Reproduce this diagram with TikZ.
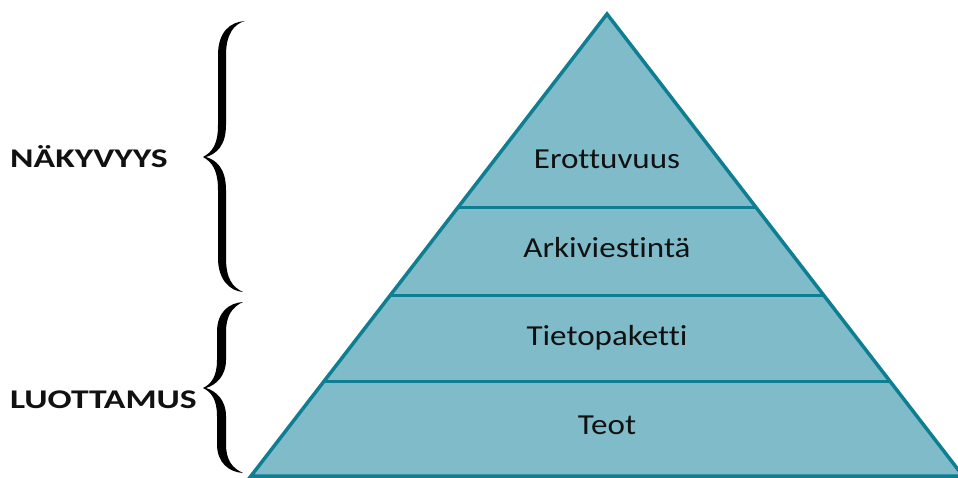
\documentclass[tikz,border=0pt]{standalone}
\usepackage{fontspec}
\setmainfont[FakeStretch=1.14,Ligatures=CommonOff]{Carlito}
\newfontfamily\sidefont[FakeStretch=1.32,Ligatures=CommonOff]{Carlito Bold}
\usetikzlibrary{calc}
\definecolor{pyrfill}{HTML}{80BBC9}
\definecolor{pyrline}{HTML}{0E7F92}
\definecolor{txt}{HTML}{111111}
\tikzset{
  layerlabel/.style={anchor=base, text=txt, font=\fontsize{29}{34}\selectfont, inner sep=0pt},
  sidelabel/.style={anchor=base west, text=txt, font=\sidefont\fontsize{27}{32}\selectfont, inner sep=0pt},
  pyredge/.style={draw=pyrline, line width=3.5pt, line join=miter},
  bracefill/.style={fill=black, draw=none}
}
\begin{document}
\begin{tikzpicture}[x=1pt,y=-1pt]
\useasboundingbox (0,0) rectangle (958,478);
% pyramid
\coordinate (apex) at (607,14);
\coordinate (bl) at (251,476);
\coordinate (br) at (963,476);
\fill[pyrfill] (apex) -- (bl) -- (br) -- cycle;
% level lines
\foreach \n/\yy in {l1/208, l2/296, l3/382}{
  \coordinate (\n L) at ($(apex)!{(\yy-14)/462}!(bl)$);
  \coordinate (\n R) at ($(apex)!{(\yy-14)/462}!(br)$);
  \draw[pyredge, line width=3pt] (\n L) -- (\n R);
}
\draw[pyredge] (apex) -- (bl) -- (br) -- cycle;
% labels
\node[layerlabel] (erot) at (607,169) {Erottuvuus};
\node[layerlabel] (arki) at (607,258) {Arkiviestintä};
\node[layerlabel] (tieto) at (607,345) {Tietopaketti};
\node[layerlabel] (teot) at (607,434) {Teot};
\node[sidelabel] (nak) at (10,168) {NÄKYVYYS};
\node[sidelabel] (luo) at (10,408) {LUOTTAMUS};
% upper brace
\fill[bracefill] (245,21) .. controls (230,22) and (218,32) .. (218,55)
  -- (218,125) .. controls (218,145) and (212,152) .. (203,157)
  .. controls (212,162) and (218,170) .. (218,190)
  -- (218,258) .. controls (218,280) and (230,291) .. (243,292)
  .. controls (232,287) and (226,278) .. (226,258)
  -- (226,190) .. controls (226,168) and (216,160) .. (206,157)
  .. controls (216,154) and (226,146) .. (226,125)
  -- (226,55) .. controls (226,34) and (234,24) .. (245,21) -- cycle;
% lower brace
\fill[bracefill] (243,302) .. controls (229,303) and (217,312) .. (217,332)
  -- (217,360) .. controls (217,377) and (211,384) .. (203,388)
  .. controls (211,392) and (217,399) .. (217,416)
  -- (217,444) .. controls (217,463) and (229,472) .. (243,473)
  .. controls (232,468) and (226,460) .. (226,444)
  -- (226,416) .. controls (226,400) and (216,391) .. (206,388)
  .. controls (216,385) and (226,376) .. (226,360)
  -- (226,332) .. controls (226,316) and (232,307) .. (243,302) -- cycle;
\end{tikzpicture}
\end{document}
